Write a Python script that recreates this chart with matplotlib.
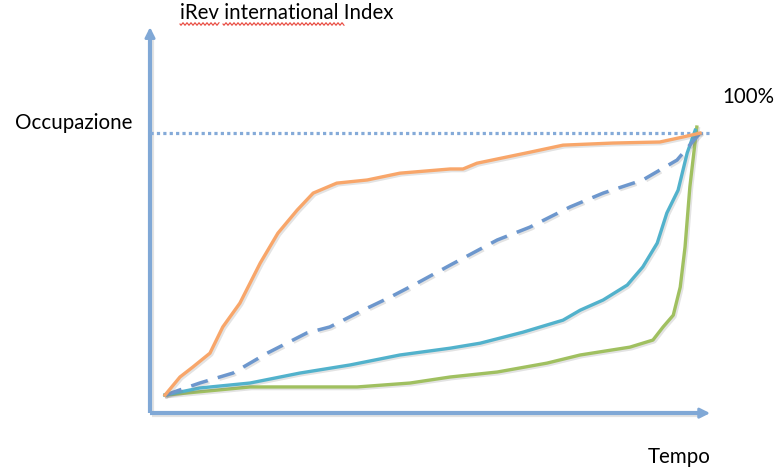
import numpy as np
import matplotlib
matplotlib.use('Agg')
from matplotlib import pyplot as plt
import matplotlib.patheffects as pe

plt.rcParams['font.family'] = ['Lato', 'DejaVu Sans']

# curves: time (0-100) vs occupancy (0-100 = full)
orange_t = [0, 2.8, 5.2, 8.4, 10.8, 14.0, 17.8, 21.1, 24.7, 27.7, 32.1, 37.8, 43.9, 53.3, 55.7, 58.3, 68.2, 74.4, 83.7, 92.5, 96.8, 100]
orange_o = [0, 6.9, 10.7, 16.0, 26.0, 35.1, 50.4, 61.8, 70.6, 77.1, 80.9, 82.1, 84.7, 86.3, 86.3, 88.5, 92.7, 95.4, 96.2, 96.6, 98.5, 100]

dash_t = [0, 6.5, 12.7, 19.1, 26.5, 30.8, 37.0, 42.1, 47.1, 53.3, 62.1, 68.2, 75.7, 81.9, 89.3, 95.7, 100]
dash_o = [0, 4.6, 8.4, 16.0, 23.7, 26.0, 32.4, 37.4, 42.7, 49.6, 59.2, 64.1, 71.8, 77.1, 82.1, 89.7, 100]

cyan_t = [0, 6.5, 15.9, 25.2, 34.6, 43.9, 53.3, 58.9, 66.9, 74.4, 77.6, 81.9, 86.4, 89.3, 92.0, 93.8, 95.9, 97.6, 99.1]
cyan_o = [0, 2.7, 4.6, 8.4, 11.5, 15.3, 17.9, 19.8, 24.0, 28.6, 32.4, 36.3, 42.0, 48.9, 58.0, 69.5, 78.2, 92.4, 101.1]

green_t = [0, 15.9, 35.9, 45.8, 53.3, 62.1, 71.4, 77.6, 86.9, 91.2, 93.1, 95.0, 96.3, 97.2, 98.1, 99.4]
green_o = [0, 3.1, 3.1, 4.6, 6.9, 8.8, 12.2, 15.3, 18.3, 21.0, 26.0, 30.5, 41.2, 56.5, 79.4, 102.3]

fig = plt.figure(figsize=(7.8, 4.7), dpi=100)
ax = fig.add_axes([0, 0, 1, 1])
ax.set_xlim(-30.84, 114.95)
ax.set_ylim(-28.6, 150.8)
ax.axis('off')

shadow = [pe.SimpleLineShadow(offset=(1.2, -1.2), alpha=0.22, shadow_color='gray'), pe.Normal()]

# axes arrows
arrow_col = '#80A8D6'
ax.plot([-2.8, -2.8], [-6.9, 138], color=arrow_col, lw=3, solid_capstyle='butt', path_effects=shadow)
ax.plot([-2.8, 100], [-6.9, -6.9], color=arrow_col, lw=3, solid_capstyle='butt', path_effects=shadow)
ax.annotate('', xy=(-2.8, 141.5), xytext=(-2.8, 136),
            arrowprops=dict(arrowstyle='-|>,head_length=0.6,head_width=0.3', color=arrow_col, lw=2))
ax.annotate('', xy=(102.4, -6.9), xytext=(99, -6.9),
            arrowprops=dict(arrowstyle='-|>,head_length=0.6,head_width=0.3', color=arrow_col, lw=2))

# 100% level
ax.plot([-2.8, 101.9], [100, 100], color='#84AAD8', lw=2.3, ls=(0, (1, 1)))

ax.plot(green_t, green_o, color='#A0C060', lw=2.4, path_effects=shadow)
ax.plot(cyan_t, cyan_o, color='#52B2CC', lw=2.4, path_effects=shadow)
ax.plot(dash_t, dash_o, color='#6D97CD', lw=2.5, ls=(0, (5, 3)), path_effects=shadow)
ax.plot(orange_t, orange_o, color='#F8A66A', lw=2.4, path_effects=shadow)

fs = 14.8
fig.text(180 / 780, 1 - 13 / 470, 'iRev international Index', fontsize=fs, va='center', ha='left')
fig.text(15 / 780, 1 - 123 / 470, 'Occupazione', fontsize=fs, va='center', ha='left')
fig.text(722 / 780, 1 - 97 / 470, '100%', fontsize=fs, va='center', ha='left')
fig.text(648 / 780, 3 / 470, 'Tempo', fontsize=fs, va='bottom', ha='left')

# spell-check squiggles under the title
for x0, x1 in [(180, 219), (223, 344)]:
    xs = np.linspace(x0, x1, int((x1 - x0) * 2))
    ys = 24 + 1.2 * np.sin((xs - x0) * np.pi / 2)
    fig.add_artist(plt.Line2D(xs / 780, 1 - ys / 470, color='#E8443A', lw=0.8))

fig.savefig('out.png', dpi=100)
